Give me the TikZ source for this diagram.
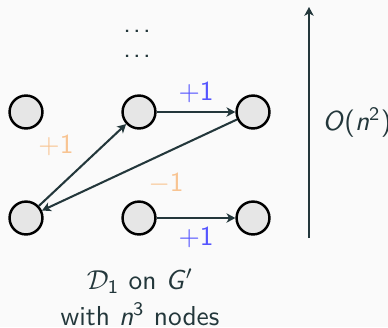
\documentclass[tikz,border=0pt]{standalone}
\usetikzlibrary{arrows.meta}
\definecolor{fg}{RGB}{35,55,59}
\definecolor{bg}{RGB}{250,250,250}
\definecolor{orng}{RGB}{248,196,146}
\definecolor{blu}{RGB}{85,85,255}
\definecolor{cfill}{RGB}{230,230,230}
\newcommand{\si}[1]{\textit{#1}}
\begin{document}
\begin{tikzpicture}[x=0.365pt,y=-0.365pt,
  font=\sffamily,
  vtx/.style={circle,draw=black,fill=cfill,line width=0.9pt,minimum size=12pt,inner sep=0pt},
  edge/.style={draw=fg,line width=0.75pt,-{Stealth[length=3.2pt,width=3.4pt,inset=0.9pt]}},
  lbl/.style={inner sep=0pt,font=\sffamily}]
\fill[bg] (0,0) rectangle (388,327);
\useasboundingbox (0,0) rectangle (388,327);
\node[vtx] (lt) at (26,112) {};
\node[vtx] (mt) at (139,112) {};
\node[vtx] (rt) at (253,112) {};
\node[vtx] (lb) at (26,218) {};
\node[vtx] (mb) at (139,218) {};
\node[vtx] (rb) at (253,218) {};
\node[text=fg,inner sep=0pt] (d1) at (137,31) {\hbox to 10pt{.\hfil.\hfil.}};
\node[text=fg,inner sep=0pt] (d2) at (137,56) {\hbox to 10pt{.\hfil.\hfil.}};
\draw[edge] (mt) -- (rt);
\draw[edge] (mb) -- (rb);
\draw[edge] (lb) -- (mt);
\draw[edge] (rt) -- (lb);
\node[lbl,text=blu] (p1) at (196,92) {$+$1};
\node[lbl,text=blu] (p2) at (196,237) {$+$1};
\node[lbl,text=orng] (p3) at (56,145) {$+$1};
\node[lbl,text=orng] (m1) at (166,183) {$-$1};
\coordinate (vb) at (309,238);
\coordinate (vt) at (309,7);
\draw[edge] (vb) -- (vt);
\node[text=fg,anchor=west,inner sep=0pt] (on) at (322,122) {\si{O}(\si{n}\textsuperscript{2})};
\node[text=fg,align=center,inner sep=0pt] (cap) at (140,297) {$\mathcal{D}_{\mathsf{1}}$ on \si{G}$'$\\[1.2pt] with \si{n}\textsuperscript{3} nodes};
\end{tikzpicture}
\end{document}
